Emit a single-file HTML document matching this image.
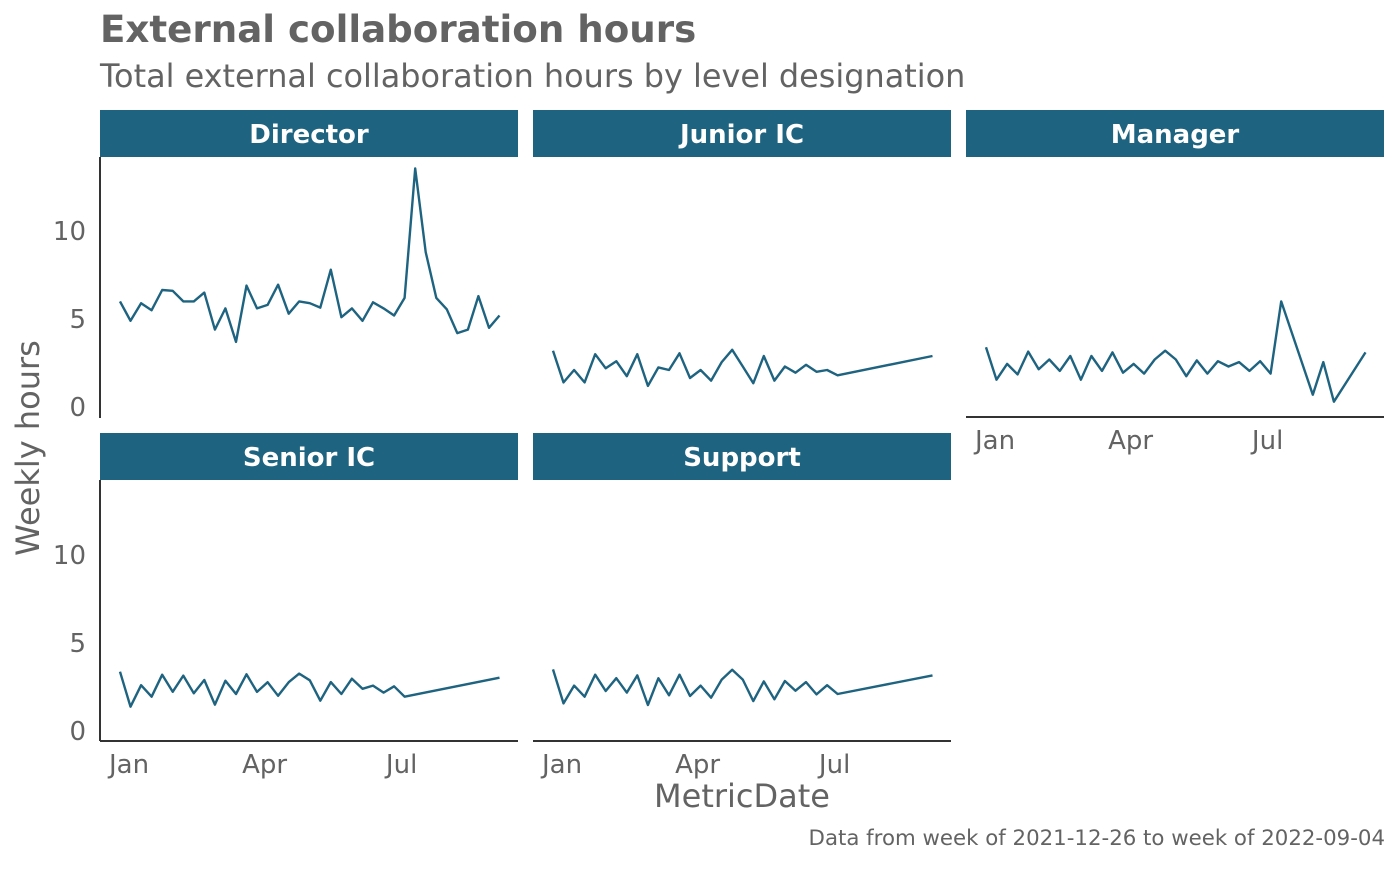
<!DOCTYPE html>
<html><head><meta charset="utf-8">
<style>
body{margin:0;background:#fff;width:1400px;height:866px;overflow:hidden;font-family:"Liberation Sans","DejaVu Sans",sans-serif}
svg text{font-family:"DejaVu Sans","Liberation Sans",sans-serif}
</style></head><body>
<svg id="chart" width="1400" height="866" xmlns="http://www.w3.org/2000/svg"></svg>
<script>
const panelNames = ["Director","Junior IC","Manager","Senior IC","Support"];
const director = [6.0,4.9,5.9,5.5,6.65,6.6,6.0,6.0,6.5,4.4,5.6,3.7,6.9,5.6,5.8,6.95,5.3,6.0,5.9,5.65,7.8,5.1,5.6,4.9,5.95,5.6,5.2,6.2,13.55,8.8,6.2,5.55,4.2,4.4,6.3,4.5,5.2];
const juniorIC = [3.2,1.4,2.1,1.4,3.0,2.2,2.6,1.75,3.0,1.2,2.25,2.1,3.05,1.65,2.1,1.5,2.55,3.25,2.3,1.35,2.9,1.5,2.3,1.95,2.4,2.0,2.1,1.8,null,null,null,null,null,null,null,null,2.9];
const manager = [3.4,1.55,2.45,1.85,3.15,2.15,2.7,2.05,2.9,1.55,2.9,2.05,3.1,1.95,2.45,1.9,2.7,3.2,2.7,1.75,2.65,1.9,2.6,2.3,2.55,2.05,2.6,1.9,6.0,null,null,0.7,2.55,0.3,null,null,3.1];
const seniorIC = [3.37,1.38,2.6,1.95,3.2,2.23,3.15,2.14,2.9,1.5,2.86,2.1,3.22,2.22,2.77,2.0,2.77,3.26,2.88,1.72,2.78,2.1,2.97,2.4,2.58,2.18,2.54,1.95,null,null,null,null,null,null,null,null,3.03];
const support = [3.5,1.57,2.58,1.95,3.2,2.27,3.0,2.18,3.16,1.48,3.0,2.03,3.2,1.99,2.58,1.89,2.92,3.48,2.92,1.7,2.82,1.8,2.84,2.29,2.78,2.08,2.6,2.1,null,null,null,null,null,null,null,null,3.16];
const yTicks = [0,5,10];
const xTickLabels = ["Jan","Apr","Jul"];
const xTickDays = [6,96,187];

const NS="http://www.w3.org/2000/svg";
const svg=document.getElementById('chart');
function mk(tag,attrs,parent){const e=document.createElementNS(NS,tag);for(const k in attrs)e.setAttribute(k,attrs[k]);(parent||svg).appendChild(e);return e;}
function txt(s,attrs){const t=mk('text',attrs);t.textContent=s;return t;}

let t;
t=txt("External collaboration hours",{x:100,y:42,'font-size':37.2,'font-weight':'bold',fill:'#636363'});


t=txt("Total external collaboration hours by level designation",{x:100,y:87,'font-size':31.9,fill:'#636363'});



const seriesList=[director,juniorIC,manager,seniorIC,support];
const panelPos=[[100,0],[533,0],[966,0],[100,1],[533,1]];
const PW=418;
function xScale(px,day){return px+20+day*1.506;}
function yScale(row,v){const zero=row===0?407:731;return zero-v*17.6;}

panelNames.forEach((name,p)=>{
  const [px,row]=panelPos[p];
  const stripTop=row===0?110:433;
  const slug=name.toLowerCase().replace(/ /g,'-');
  const g=mk('g',{});
  
  
  const r=mk('rect',{x:px,y:stripTop,width:PW,height:47,fill:'#1e6380'},g);
  
  
  const st=mk('text',{x:px+PW/2,y:stripTop+33,'font-size':26,'font-weight':'bold',fill:'#fff','text-anchor':'middle'},g);
  st.textContent=name;
  
  
  const vals=seriesList[p];
  let d='';
  vals.forEach((v,i)=>{if(v===null)return;d+=(d?'L':'M')+xScale(px,i*7).toFixed(1)+','+yScale(row,v).toFixed(1);});
  const path=mk('path',{d:d,fill:'none',stroke:'#1e6380','stroke-width':2.4,'stroke-linejoin':'round'},g);
  
  
  const bottom=row===0?418:741;
  if(px===100){
    const a=mk('line',{x1:px,y1:stripTop+47,x2:px,y2:bottom,stroke:'#333','stroke-width':2},g);
    
    
    yTicks.forEach(v=>{
      const tl=mk('text',{x:86,y:yScale(row,v)+9,'font-size':26,fill:'#636363','text-anchor':'end'},g);
      tl.textContent=v;
      
      
    });
  }
  if(row===1||p===2){
    const by=row===0?417:741;
    const a=mk('line',{x1:px,y1:by,x2:px+PW,y2:by,stroke:'#333','stroke-width':2},g);
    
    
    xTickLabels.forEach((lab,k)=>{
      const tl=mk('text',{x:xScale(px,xTickDays[k]),y:by+32,'font-size':26,fill:'#636363','text-anchor':'middle'},g);
      tl.textContent=lab;
      
      
    });
  }
});

t=txt("Weekly hours",{x:0,y:0,'font-size':32,fill:'#636363','text-anchor':'middle',transform:'translate(39,448) rotate(-90)'});


t=txt("MetricDate",{x:742,y:807,'font-size':32,fill:'#636363','text-anchor':'middle'});


t=txt("Data from week of 2021-12-26 to week of 2022-09-04",{x:1385,y:845,'font-size':21.3,fill:'#636363','text-anchor':'end'});


</script>
</body></html>
